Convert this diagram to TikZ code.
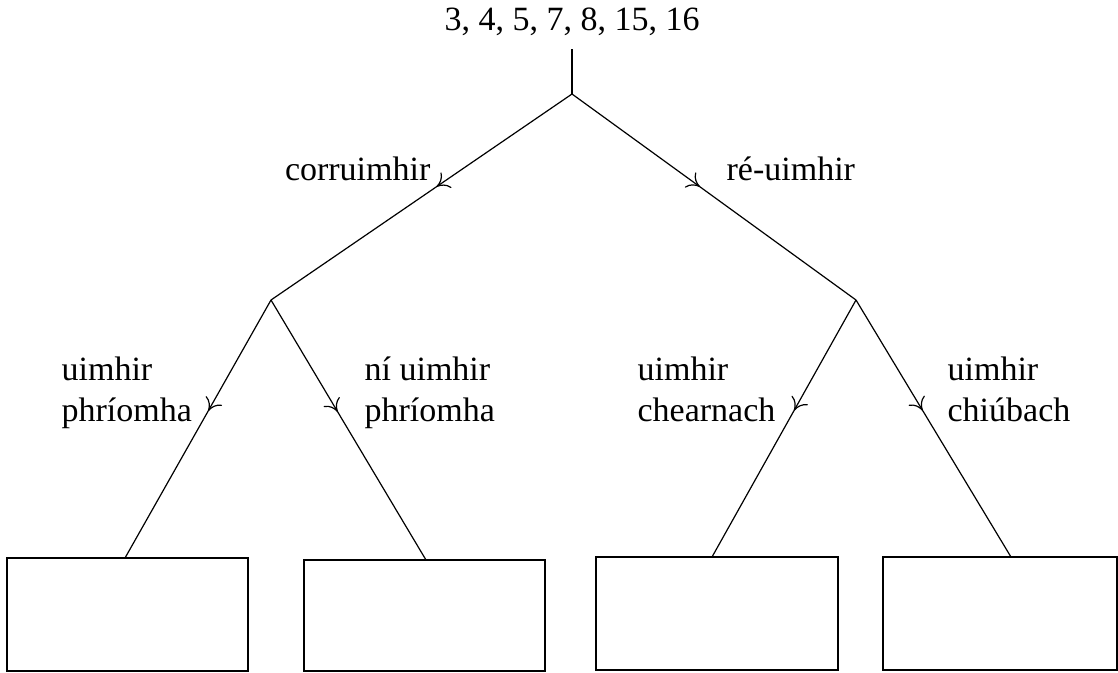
\documentclass[tikz,border=0pt]{standalone}
\usepackage{fontspec}
\setmainfont{Liberation Serif}
\usetikzlibrary{arrows.meta,decorations.markings}
\begin{document}
\begin{tikzpicture}[x=0.75pt,y=-0.75pt,
  line width=0.9pt,
  branch/.style={postaction={decorate},decoration={markings,
     mark=at position #1 with {\arrow{To[length=9pt,width=14pt]}}}},
  branch/.default=0.45,
  lbl/.style={font=\fontsize{25.5}{31}\selectfont,inner sep=0pt,align=left},
  answerbox/.style={draw,line width=1.1pt}]
\useasboundingbox (0,0) rectangle (1118,672);
\node[lbl] (set) at (572,22) {3, 4, 5, 7, 8, 15, 16};
\coordinate (top) at (572,49);
\coordinate (root) at (572,94);
\coordinate (L) at (271,300);
\coordinate (R) at (856,300);
\draw (top) -- (root);
\draw[branch] (root) -- (L);
\draw[branch] (root) -- (R);
\node[lbl,anchor=east] (lc) at (431,169) {corruimhir};
\node[lbl,anchor=west] (rc) at (726,169) {ré-uimhir};
% boxes
\draw[answerbox] (7,558) rectangle (248,671);
\draw[answerbox] (304,560) rectangle (545,671);
\draw[answerbox] (596,557) rectangle (838,670);
\draw[answerbox] (883,557) rectangle (1117,670);
\coordinate (b1) at (125,558);
\coordinate (b2) at (426,560);
\coordinate (b3) at (712,557);
\coordinate (b4) at (1011,557);
\draw[branch=0.43] (L) -- (b1);
\draw[branch=0.43] (L) -- (b2);
\draw[branch=0.43] (R) -- (b3);
\draw[branch=0.43] (R) -- (b4);
\node[lbl,anchor=north west] (l1) at (61,356) {uimhir\\phríomha};
\node[lbl,anchor=north west] (l2) at (364,356) {ní uimhir\\phríomha};
\node[lbl,anchor=north west] (l3) at (637,356) {uimhir\\chearnach};
\node[lbl,anchor=north west] (l4) at (947,356) {uimhir\\chiúbach};
\end{tikzpicture}
\end{document}
